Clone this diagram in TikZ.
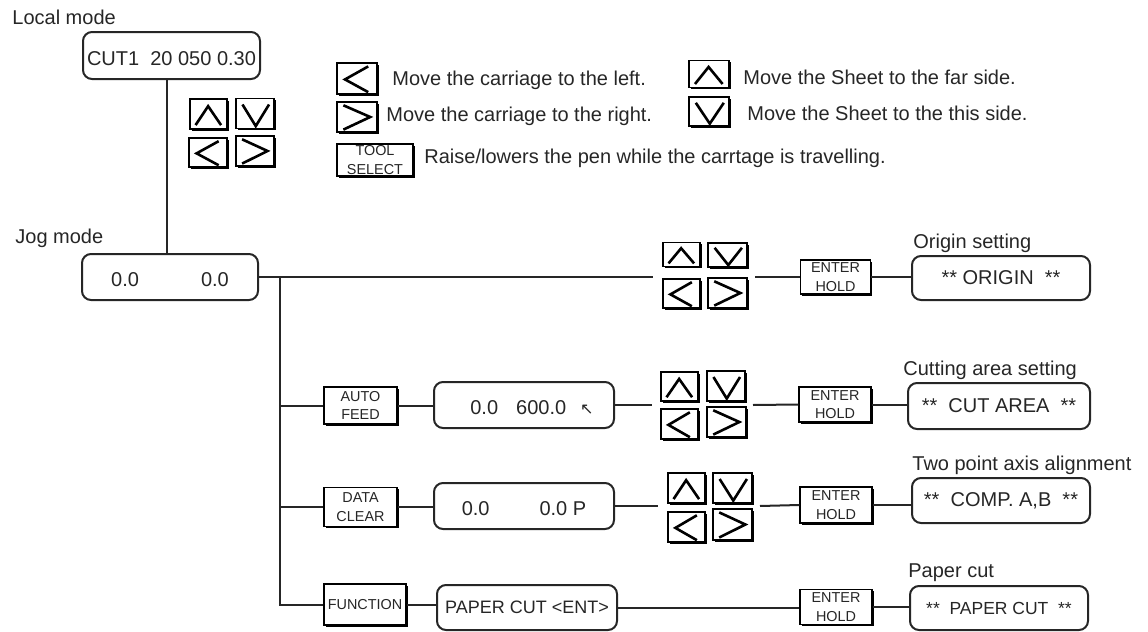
\documentclass[tikz,border=0pt]{standalone}
\usepackage{fontspec}
\setmainfont{Liberation Sans}
\newfontfamily\symfont{DejaVu Sans}
\usetikzlibrary{calc,shadows}
\newcommand\kpt[2]{(perpendicular cs: vertical line through={($(path picture bounding box.south west)!#1!(path picture bounding box.south east)$)}, horizontal line through={($(path picture bounding box.south west)!#2!(path picture bounding box.north west)$)})}
\begin{document}
\begin{tikzpicture}[x=0.5pt,y=-0.5pt,
  font=\fontsize{10}{12}\selectfont,
  sz/.style 2 args={minimum width=#1*0.5pt, minimum height=#2*0.5pt},
  disp/.style={draw=black!85, line width=1pt, rounded corners=4.5pt, inner sep=0pt, fill=white, text=black!85},
  lowtxt/.style={text height=9.6pt, text depth=0pt},
  key/.style={draw=black, line width=0.7pt, fill=white, inner sep=0pt,
    drop shadow={shadow xshift=0.75pt, shadow yshift=-0.75pt, opacity=1, fill=black}},
  keytxt/.style={key, align=center, text=black!85, font=\fontsize{7.2}{9.2}\selectfont},
  chev/.style n args={6}{path picture={\draw[line width=1.3pt, black, line join=miter] \kpt{#1}{#2} -- \kpt{#3}{#4} -- \kpt{#5}{#6};}},
  kup/.style={key, chev={0.15}{0.13}{0.49}{0.76}{0.84}{0.13}},
  kdn/.style={key, chev={0.17}{0.8}{0.52}{0.08}{0.87}{0.8}},
  klt/.style={key, chev={0.78}{0.89}{0.2}{0.47}{0.78}{0.06}},
  krt/.style={key, chev={0.16}{0.89}{0.83}{0.5}{0.16}{0.08}},
  wire/.style={draw=black!85, line width=1pt},
  lbl/.style={anchor=west, inner sep=0pt, text=black!85}
]
\useasboundingbox (0,0) rectangle (1148,632);

% Local mode
\node[lbl] (lLocal) at (12,17) {Local mode};
\node[disp, sz={177}{47}, lowtxt] (local) at (171.5,55.5) {CUT1\ \ 20 050 0.30};
\node[kup, sz={37}{30}] (lu) at (208.5,114) {};
\node[kdn, sz={38}{30}] (ld) at (255,113.5) {};
\node[klt, sz={38}{29}] (ll) at (208,152.5) {};
\node[krt, sz={38}{30}] (lr) at (255,151) {};

% Legend
\node[klt, sz={40}{31}] (gl) at (357,78.5) {};
\node[krt, sz={40}{30}] (gr) at (357,117) {};
\node[lbl] (tl) at (392,80) {Move the carriage to the left.};
\node[lbl] (tr) at (386,116) {Move the carriage to the right.};
\node[kup, sz={40}{27}] (gu) at (709,74) {};
\node[kdn, sz={40}{29}] (gd) at (709,111.5) {};
\node[lbl] (tu) at (743,77) {Move the Sheet to the far side.};
\node[lbl] (td) at (747,113) {Move the Sheet to the this side.};
\node[keytxt, sz={76}{32}] (ts) at (375,160) {TOOL\\SELECT};
\node[lbl] (tt) at (424,158) {Raise/lowers the pen while the carrtage is travelling.};

% Jog mode
\node[lbl] (lJog) at (15,238) {Jog mode};
\node[disp, sz={176}{46}, lowtxt] (jog) at (170,277) {0.0\hspace{31pt}0.0};
\draw[wire] ([xshift=-2.25pt]local.south) -- ([xshift=-1.5pt]jog.north);

% Row 1 : origin
\coordinate (c1w) at (653,277);
\coordinate (c1e) at (755,277);
\coordinate (trunk) at (280,277);
\node[kup, sz={37}{24}] (u1) at (681.5,254.5) {};
\node[kdn, sz={39}{24}] (d1) at (727.5,255) {};
\node[klt, sz={37}{29}] (l1) at (681.5,293.5) {};
\node[krt, sz={39}{30}] (r1) at (727.5,293) {};
\node[keytxt, sz={70}{34}] (e1) at (835.5,277) {ENTER\\HOLD};
\node[disp, sz={178}{44}] (origin) at (1001,278) {**\ ORIGIN\ \ **};
\node[lbl] (lOrigin) at (913,243) {Origin setting};
\draw[wire] (jog.east) -- (c1w);
\draw[wire] (c1e) -- (e1.west);
\draw[wire] (e1.east) -- (e1.east -| origin.west);

% Row 2 : cut area
\node[keytxt, sz={73}{37}] (af) at (360.5,405.5) {AUTO\\FEED};
\node[disp, sz={180}{46}, lowtxt] (afd) at (524,405) {\hspace*{8pt}0.0\hspace{9pt}600.0\hspace{7pt}{\symfont\fontsize{8}{9}\selectfont ↖}};
\coordinate (c2w) at (652,405);
\coordinate (c2e) at (753,405);
\node[kup, sz={37}{29}] (u2) at (679.5,386.5) {};
\node[kdn, sz={38}{30}] (d2) at (726,386) {};
\node[klt, sz={37}{30}] (l2) at (679.5,424) {};
\node[krt, sz={39}{30}] (r2) at (726.5,422) {};
\node[keytxt, sz={72}{35}] (e2) at (835,404.5) {ENTER\\HOLD};
\node[disp, sz={182}{46}] (cut) at (999,406) {**\ \ CUT AREA\ \ **};
\node[lbl] (lCut) at (903,370) {Cutting area setting};
\draw[wire] (af.east) -- (af.east -| afd.west);
\draw[wire] (afd.east) -- (c2w);
\draw[wire] (c2e) -- (e2.west);
\draw[wire] (e2.east) -- (e2.east -| cut.west);

% Row 3 : two point
\node[keytxt, sz={73}{39}] (dc) at (360.5,507) {DATA\\CLEAR};
\node[disp, sz={180}{46}, lowtxt] (dcd) at (524,506) {0.0\hspace{25pt}0.0 P};
\coordinate (c3w) at (658,506);
\coordinate (c3e) at (760,506);
\node[kup, sz={37}{30}] (u3) at (686.5,488) {};
\node[kdn, sz={39}{30}] (d3) at (732.5,488) {};
\node[klt, sz={37}{30}] (l3) at (686.5,527) {};
\node[krt, sz={39}{31}] (r3) at (732.5,524.5) {};
\node[keytxt, sz={72}{36}] (e3) at (836,505) {ENTER\\HOLD};
\node[disp, sz={178}{45}] (comp) at (1001,500.5) {**\ \ COMP. A,B\ \ **};
\node[lbl] (lComp) at (912,465) {Two point axis alignment};
\draw[wire] (dc.east) -- (dc.east -| dcd.west);
\draw[wire] (dcd.east) -- (c3w);
\draw[wire] (c3e) -- (e3.west);
\draw[wire] (e3.east) -- (e3.east -| comp.west);

% Row 4 : paper cut
\node[keytxt, sz={82}{41}] (fn) at (365,604.5) {FUNCTION};
\node[disp, sz={180}{45}, font=\fontsize{9}{11}\selectfont] (pc) at (527,607.5) {PAPER CUT <ENT>};
\node[keytxt, sz={72}{35}] (e4) at (836,607) {ENTER\\HOLD};
\node[disp, sz={178}{44}, font=\fontsize{8.75}{10}\selectfont] (pcut) at (999,608) {**\ \ PAPER CUT\ \ **};
\node[lbl] (lPcut) at (908,573) {Paper cut};
\draw[wire] (fn.east) -- (fn.east -| pc.west);
\draw[wire] (pc.east) -- (pc.east -| e4.west);
\draw[wire] (e4.east) -- (e4.east -| pcut.west);

% trunk
\draw[wire] (trunk) |- (fn.west);
\draw[wire] (af.west -| trunk) -- (af.west);
\draw[wire] (dc.west -| trunk) -- (dc.west);
\end{tikzpicture}
\end{document}
